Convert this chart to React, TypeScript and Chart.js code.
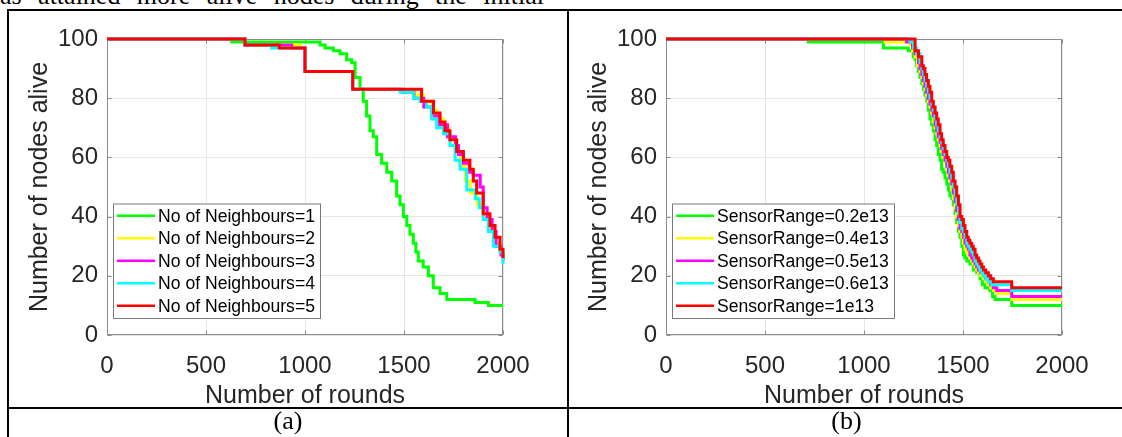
import React, { useEffect, useRef } from "react";
import { Chart, registerables } from "chart.js";

Chart.register(...registerables);

type Pt = [number, number];

const FONT = '"Liberation Sans", Arial, sans-serif';
const SERIF = '"Liberation Serif", "Times New Roman", serif';

const roundTicks = [0, 500, 1000, 1500, 2000];
const aliveTicks = [0, 20, 40, 60, 80, 100];

const seriesColors = ["#00ff00", "#ffff00", "#ff00ff", "#00ffff", "#ff0000"];

const neighbourLabels = [
  "No of Neighbours=1",
  "No of Neighbours=2",
  "No of Neighbours=3",
  "No of Neighbours=4",
  "No of Neighbours=5",
];

const sensorLabels = [
  "SensorRange=0.2e13",
  "SensorRange=0.4e13",
  "SensorRange=0.5e13",
  "SensorRange=0.6e13",
  "SensorRange=1e13",
];

// (a) Number of nodes alive vs rounds for different neighbour counts
const neighbours1: Pt[] = [[0,100],[630,99],[1076,98],[1101,97],[1143,96],[1177,95],[1210,93],[1236,92],[1253,87],[1278,83],[1294,79],[1311,74],[1328,69],[1345,67],[1362,61],[1387,58],[1413,55],[1438,52],[1463,47],[1480,44],[1497,40],[1514,37],[1530,34],[1547,31],[1560,28],[1572,25],[1597,23],[1623,20],[1648,16],[1682,14],[1716,12],[1859,11],[1926,10],[2000,10]];
const neighbours2: Pt[] = [[0,100],[697,98],[975,97],[1000,89],[1241,83],[1500,82],[1560,81],[1600,79],[1640,76],[1665,73],[1700,70],[1730,66],[1760,62],[1785,57],[1810,52],[1835,48],[1870,44],[1900,40],[1930,36],[1955,31],[1985,29],[2000,27]];
const neighbours3: Pt[] = [[0,100],[697,98],[933,97],[1000,89],[1241,83],[1490,82],[1550,80],[1600,77],[1640,74],[1680,71],[1720,67],[1760,64],[1775,61],[1800,58],[1830,55],[1850,54],[1885,50],[1900,43],[1920,39],[1945,35],[1965,30],[1990,27],[2000,25]];
const neighbours4: Pt[] = [[0,100],[697,98],[832,97],[1000,89],[1241,83],[1480,82],[1547,80],[1581,79],[1614,77],[1640,73],[1665,70],[1699,68],[1732,64],[1758,59],[1783,56],[1817,49],[1860,46],[1880,43],[1900,39],[1926,35],[1951,30],[1985,28],[2000,24]];
const neighbours5: Pt[] = [[0,100],[697,98],[870,97],[1000,89],[1241,83],[1589,79],[1649,75],[1682,72],[1707,69],[1732,66],[1766,62],[1800,59],[1833,56],[1850,52],[1867,48],[1900,41],[1934,37],[1960,33],[1985,29],[2000,26]];

// (b) Number of nodes alive vs rounds for different sensor ranges
const sensor02: Pt[] = [[0,100],[719,99],[1098,97],[1224,96],[1249,94],[1258,93],[1266,91],[1275,89],[1283,87],[1292,85],[1300,83],[1308,81],[1317,79],[1325,76],[1333,73],[1342,71],[1350,69],[1359,66],[1367,64],[1375,61],[1384,59],[1392,56],[1400,55],[1409,53],[1418,51],[1426,49],[1434,47],[1443,46],[1451,44],[1460,41],[1468,38],[1477,35],[1485,33],[1494,30],[1502,27],[1510,26],[1519,25],[1535,24],[1552,22],[1569,21],[1586,19],[1598,17],[1611,16],[1636,15],[1649,13],[1662,12],[1746,10],[2000,10]];
const sensor04: Pt[] = [[0,100],[1106,99],[1230,98],[1245,96],[1258,94],[1270,91],[1283,89],[1292,87],[1300,85],[1308,83],[1316,81],[1325,79],[1333,77],[1342,75],[1350,72],[1359,70],[1367,68],[1375,66],[1384,64],[1392,62],[1400,60],[1409,58],[1418,56],[1426,54],[1434,52],[1443,49],[1451,46],[1460,43],[1468,40],[1477,37],[1485,35],[1494,33],[1502,31],[1510,29],[1519,28],[1527,27],[1535,26],[1544,25],[1552,24],[1561,23],[1569,22],[1578,21],[1590,20],[1603,19],[1615,18],[1628,17],[1640,16],[1653,15],[1670,14],[1746,12],[2000,12]];
const sensor05: Pt[] = [[0,100],[1215,99],[1245,97],[1258,95],[1275,92],[1283,90],[1292,88],[1300,86],[1308,84],[1316,82],[1325,80],[1333,78],[1342,76],[1350,74],[1359,71],[1367,69],[1375,67],[1384,65],[1392,63],[1400,61],[1409,59],[1418,57],[1426,55],[1434,53],[1443,51],[1451,48],[1460,45],[1468,42],[1477,39],[1485,36],[1494,35],[1502,33],[1510,31],[1519,30],[1527,29],[1535,27],[1544,26],[1552,25],[1561,24],[1569,23],[1578,22],[1590,21],[1603,20],[1615,19],[1628,18],[1640,17],[1653,16],[1670,15],[1746,13],[2000,13]];
const sensor06: Pt[] = [[0,100],[1232,99],[1250,97],[1266,95],[1283,92],[1292,90],[1300,88],[1308,86],[1316,84],[1325,82],[1333,80],[1342,78],[1350,76],[1359,73],[1367,71],[1375,69],[1384,67],[1392,65],[1400,63],[1409,61],[1418,59],[1426,57],[1434,55],[1443,53],[1451,50],[1460,47],[1468,44],[1477,41],[1485,38],[1494,36],[1502,35],[1510,33],[1519,31],[1527,30],[1535,29],[1544,28],[1552,27],[1561,25],[1569,24],[1578,23],[1586,22],[1595,21],[1603,20],[1615,19],[1628,18],[1645,17],[1746,15],[2000,15]];
const sensor1: Pt[] = [[0,100],[1258,96],[1275,94],[1292,91],[1300,90],[1308,88],[1316,86],[1325,84],[1333,82],[1342,79],[1350,77],[1359,75],[1367,73],[1375,71],[1384,68],[1392,66],[1400,64],[1409,62],[1418,60],[1426,59],[1434,57],[1443,55],[1451,52],[1460,50],[1468,47],[1477,44],[1485,40],[1494,39],[1502,37],[1510,35],[1519,33],[1527,32],[1535,31],[1544,30],[1552,29],[1561,27],[1569,26],[1578,25],[1586,24],[1595,23],[1603,22],[1615,21],[1628,20],[1640,19],[1653,18],[1746,16],[2000,16]];

const seriesA = [neighbours1, neighbours2, neighbours3, neighbours4, neighbours5];
const seriesB = [sensor02, sensor04, sensor05, sensor06, sensor1];

const AXIS_COLOR = "#8c8c8c";
const GRID_COLOR = "#e6e6e6";
const TEXT_COLOR = "#262626";

const frameLegendPlugin = (labels: string[], colors: string[]) => ({
  id: "frameLegend",
  beforeDatasetsDraw(chart: any) {
    const { ctx, chartArea, scales } = chart;
    const { left, right, top, bottom } = chartArea;
    ctx.save();
    ctx.strokeStyle = AXIS_COLOR;
    ctx.lineWidth = 1;
    const l = Math.round(left) + 0.5;
    const r = Math.round(right) - 0.5;
    const t = Math.round(top) + 0.5;
    const b = Math.round(bottom) - 0.5;
    ctx.strokeRect(l, t, r - l, b - t);
    const tl = 4;
    ctx.beginPath();
    for (const v of roundTicks) {
      const px = Math.round(scales.x.getPixelForValue(v)) + 0.5;
      ctx.moveTo(px, b);
      ctx.lineTo(px, b - tl);
      ctx.moveTo(px, t);
      ctx.lineTo(px, t + tl);
    }
    for (const v of aliveTicks) {
      const py = Math.round(scales.y.getPixelForValue(v)) + 0.5;
      ctx.moveTo(l, py);
      ctx.lineTo(l + tl, py);
      ctx.moveTo(r, py);
      ctx.lineTo(r - tl, py);
    }
    ctx.stroke();
    ctx.restore();
  },
  afterDatasetsDraw(chart: any) {
    const { ctx, chartArea } = chart;
    ctx.save();
    ctx.font = `17.6px ${FONT}`;
    const textW = Math.max(...labels.map((s) => ctx.measureText(s).width));
    const rowH = 22.5;
    const h = rowH * labels.length + 2;
    const boxLeft = Math.round(chartArea.left + 6);
    const boxBottom = Math.round(chartArea.bottom - 17);
    const boxTop = boxBottom - h;
    const w = Math.round(45 + textW + 5);
    ctx.fillStyle = "#ffffff";
    ctx.fillRect(boxLeft, boxTop, w, h);
    ctx.strokeStyle = "#7a7a7a";
    ctx.lineWidth = 1;
    ctx.strokeRect(boxLeft + 0.5, boxTop + 0.5, w, h);
    labels.forEach((s, i) => {
      const cy = boxTop + 1 + rowH / 2 + i * rowH;
      ctx.strokeStyle = colors[i];
      ctx.lineWidth = 2.5;
      ctx.beginPath();
      ctx.moveTo(boxLeft + 4, cy);
      ctx.lineTo(boxLeft + 42, cy);
      ctx.stroke();
      ctx.fillStyle = "#000000";
      ctx.textAlign = "left";
      ctx.textBaseline = "middle";
      ctx.fillText(s, boxLeft + 45, cy + 1);
    });
    ctx.restore();
  },
});

function NodesChart(props: {
  series: Pt[][];
  labels: string[];
  left: number;
  width: number;
  padRight: number;
}) {
  const { series, labels, left, width, padRight } = props;
  const ref = useRef<HTMLCanvasElement | null>(null);
  const height = 397;

  useEffect(() => {
    if (!ref.current) return;
    const chart = new Chart(ref.current, {
      type: "line",
      data: {
        datasets: series.map((pts, i) => ({
          label: labels[i],
          data: pts.map(([x, y]) => ({ x, y })),
          borderColor: seriesColors[i],
          backgroundColor: seriesColors[i],
          borderWidth: 3,
          pointRadius: 0,
          pointHoverRadius: 0,
          stepped: true,
          fill: false,
          order: series.length - i,
          clip: false as any,
        })),
      },
      options: {
        animation: false,
        responsive: false,
        maintainAspectRatio: false,
        devicePixelRatio: 1,
        events: [],
        layout: { padding: { top: 27, right: padRight, left: 0, bottom: 0 } },
        plugins: {
          legend: { display: false },
          tooltip: { enabled: false },
        },
        scales: {
          x: {
            type: "linear",
            min: 0,
            max: 2000,
            afterBuildTicks: (s: any) => {
              s.ticks = roundTicks.map((v) => ({ value: v }));
            },
            afterFit: (s: any) => {
              s.height = 74;
            },
            grid: { color: GRID_COLOR, lineWidth: 1, drawTicks: false },
            border: { display: false },
            ticks: {
              padding: 17,
              autoSkip: false,
              maxRotation: 0,
              color: TEXT_COLOR,
              font: { family: FONT, size: 24 },
              callback: (v: any) => String(v),
            },
            title: {
              display: true,
              text: "Number of rounds",
              color: TEXT_COLOR,
              font: { family: FONT, size: 25, lineHeight: 1 },
              padding: { top: 0, bottom: 0 },
            },
          },
          y: {
            type: "linear",
            min: 0,
            max: 100,
            afterBuildTicks: (s: any) => {
              s.ticks = aliveTicks.map((v) => ({ value: v }));
            },
            afterFit: (s: any) => {
              s.width = 97;
            },
            grid: { color: GRID_COLOR, lineWidth: 1, drawTicks: false },
            border: { display: false },
            ticks: {
              padding: 9,
              autoSkip: false,
              color: TEXT_COLOR,
              font: { family: FONT, size: 24 },
              callback: (v: any) => String(v),
            },
            title: {
              display: true,
              text: "Number of nodes alive",
              color: TEXT_COLOR,
              font: { family: FONT, size: 25, lineHeight: 1 },
              padding: { top: 18, bottom: 0 },
            },
          },
        },
      },
      plugins: [frameLegendPlugin(labels, seriesColors)],
    } as any);
    return () => chart.destroy();
  }, []);

  return (
    <canvas
      ref={ref}
      width={width}
      height={height}
      style={{ position: "absolute", left, top: 12, width, height, display: "block" }}
    />
  );
}

export default function App() {
  const line = (l: number, t: number, w: number, h: number) => (
    <div style={{ position: "absolute", left: l, top: t, width: w, height: h, background: "#000" }} />
  );
  return (
    <div
      style={{
        position: "absolute",
        left: 0,
        top: 0,
        width: 1122,
        height: 437,
        overflow: "hidden",
        background: "#fff",
      }}
    >
      <div
        style={{
          position: "absolute",
          left: 0,
          top: -17,
          width: 544,
          fontFamily: SERIF,
          fontSize: 26,
          lineHeight: "26px",
          textAlign: "justify",
          textAlignLast: "justify" as any,
          color: "#000",
        }}
      >
        as attained more alive nodes during the initial
      </div>
      <NodesChart series={seriesA} labels={neighbourLabels} left={10} width={555} padRight={62} />
      <NodesChart series={seriesB} labels={sensorLabels} left={569} width={553} padRight={60} />
      {line(7, 9, 1115, 2)}
      {line(7, 9, 2, 428)}
      {line(567, 9, 2, 428)}
      {line(7, 407, 1115, 2)}
      <div
        style={{
          position: "absolute",
          left: 9,
          width: 558,
          top: 408,
          textAlign: "center",
          fontFamily: SERIF,
          fontSize: 26,
          lineHeight: "26px",
          color: "#000",
        }}
      >
        (a)
      </div>
      <div
        style={{
          position: "absolute",
          left: 569,
          width: 555,
          top: 408,
          textAlign: "center",
          fontFamily: SERIF,
          fontSize: 26,
          lineHeight: "26px",
          color: "#000",
        }}
      >
        (b)
      </div>
    </div>
  );
}
